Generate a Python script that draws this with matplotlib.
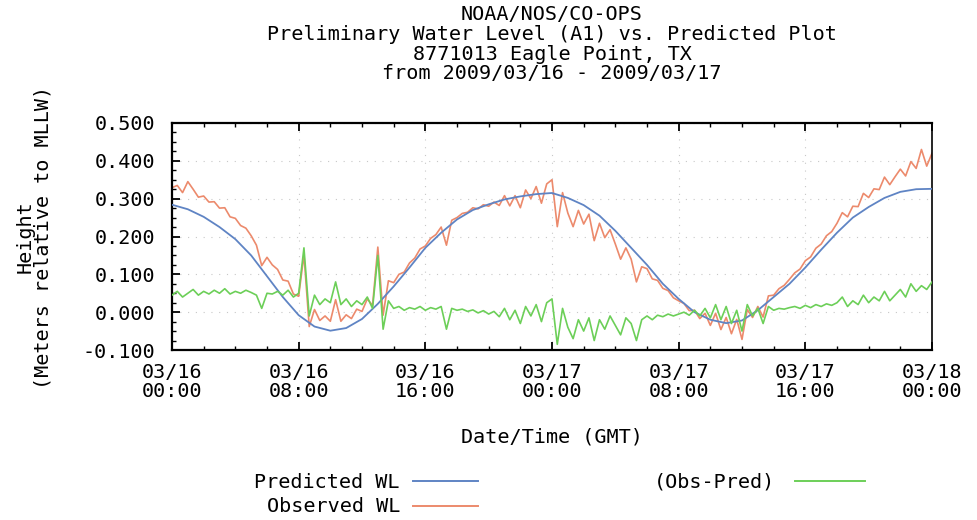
import matplotlib
matplotlib.use('Agg')
import matplotlib.pyplot as plt
from matplotlib.lines import Line2D
import numpy as np

# hours since 2009/03/16 00:00 GMT
pred_hours = np.arange(0, 49)
predicted = [0.284, 0.272, 0.252, 0.225, 0.193, 0.150, 0.095, 0.040, -0.008, -0.038,
             -0.049, -0.042, -0.018, 0.022, 0.068, 0.118, 0.170, 0.210, 0.245, 0.270,
             0.285, 0.298, 0.306, 0.312, 0.315, 0.302, 0.283, 0.255, 0.215, 0.170,
             0.125, 0.075, 0.035, 0.000, -0.020, -0.029, -0.022, 0.005, 0.040, 0.075,
             0.118, 0.165, 0.210, 0.250, 0.278, 0.302, 0.318, 0.325, 0.326]

# 20 minute samples
obs_hours = np.linspace(0, 48, 145)
observed = [0.329, 0.335, 0.316,
            0.345, 0.325, 0.304,
            0.307, 0.291, 0.292,
            0.275, 0.276, 0.252,
            0.248, 0.229, 0.222,
            0.202, 0.177, 0.123,
            0.145, 0.125, 0.113,
            0.085, 0.082, 0.048,
            0.042, 0.152, -0.038,
            0.007, -0.022, -0.010,
            -0.024, 0.033, -0.024,
            -0.007, -0.017, 0.008,
            0.002, 0.035, 0.018,
            0.172, -0.008, 0.083,
            0.078, 0.100, 0.106,
            0.130, 0.143, 0.167,
            0.175, 0.195, 0.205,
            0.225, 0.177, 0.243,
            0.250, 0.261, 0.264,
            0.276, 0.273, 0.284,
            0.280, 0.291, 0.282,
            0.308, 0.281, 0.308,
            0.276, 0.323, 0.300,
            0.332, 0.288, 0.339,
            0.350, 0.226, 0.316,
            0.262, 0.226, 0.269,
            0.233, 0.259, 0.189,
            0.235, 0.197, 0.218,
            0.180, 0.140, 0.170,
            0.140, 0.080, 0.120,
            0.115, 0.088, 0.084,
            0.063, 0.057, 0.038,
            0.030, 0.023, 0.004,
            0.005, -0.017, -0.003,
            -0.035, -0.003, -0.046,
            -0.014, -0.057, -0.019,
            -0.072, 0.007, -0.014,
            0.015, -0.013, 0.043,
            0.045, 0.062, 0.071,
            0.087, 0.104, 0.114,
            0.136, 0.146, 0.169,
            0.180, 0.202, 0.213,
            0.235, 0.263, 0.252,
            0.280, 0.279, 0.314,
            0.303, 0.326, 0.324,
            0.357, 0.337, 0.358,
            0.378, 0.360, 0.398,
            0.380, 0.430, 0.386,
            0.420]

residual = [0.045, 0.055, 0.040,
            0.050, 0.060, 0.045,
            0.055, 0.048, 0.058,
            0.050, 0.062, 0.048,
            0.055, 0.050, 0.058,
            0.052, 0.045, 0.010,
            0.050, 0.048, 0.055,
            0.045, 0.058, 0.040,
            0.050, 0.170, -0.010,
            0.045, 0.020, 0.035,
            0.025, 0.080, 0.020,
            0.035, 0.015, 0.030,
            0.020, 0.040, 0.010,
            0.150, -0.045, 0.030,
            0.010, 0.015, 0.005,
            0.012, 0.008, 0.015,
            0.005, 0.012, 0.008,
            0.015, -0.045, 0.010,
            0.005, 0.008, 0.002,
            0.006, -0.002, 0.004,
            -0.005, 0.002, -0.012,
            0.010, -0.020, 0.005,
            -0.030, 0.015, -0.010,
            0.020, -0.025, 0.025,
            0.035, -0.085, 0.010,
            -0.040, -0.070, -0.020,
            -0.050, -0.015, -0.075,
            -0.020, -0.045, -0.010,
            -0.035, -0.060, -0.015,
            -0.030, -0.075, -0.020,
            -0.010, -0.020, -0.008,
            -0.012, -0.005, -0.010,
            -0.005, 0.000, -0.008,
            0.005, -0.010, 0.010,
            -0.015, 0.020, -0.020,
            0.015, -0.030, 0.005,
            -0.050, 0.020, -0.010,
            0.010, -0.030, 0.015,
            0.005, 0.010, 0.008,
            0.012, 0.015, 0.010,
            0.018, 0.012, 0.020,
            0.015, 0.022, 0.018,
            0.025, 0.040, 0.015,
            0.030, 0.020, 0.045,
            0.025, 0.040, 0.030,
            0.055, 0.030, 0.045,
            0.060, 0.040, 0.075,
            0.055, 0.070, 0.060,
            0.080]

tick_hours = [0, 8, 16, 24, 32, 40, 48]
tick_labels = ['03/16\n00:00', '03/16\n08:00', '03/16\n16:00', '03/17\n00:00',
               '03/17\n08:00', '03/17\n16:00', '03/18\n00:00']
y_ticks = [-0.1, 0.0, 0.1, 0.2, 0.3, 0.4, 0.5]
y_labels = ['-0.100', '0.000', '0.100', '0.200', '0.300', '0.400', '0.500']

blue = '#5f84c4'
red = '#ec8a6c'
green = '#6ccf58'

plt.rcParams['font.family'] = ['DejaVu Sans Mono']
fs = 14.5

W, H = 977, 520
fig = plt.figure(figsize=(W / 100, H / 100), dpi=100)

def fx(x):
    return x / W

def fy(y):
    return 1 - y / H

ax = fig.add_axes([fx(172), fy(350), fx(932) - fx(172), fy(123) - fy(350)])

ax.plot(obs_hours, observed, color=red, lw=1.2, zorder=2)
ax.plot(pred_hours, predicted, color=blue, lw=1.3, zorder=3)
ax.plot(obs_hours, residual, color=green, lw=1.2, zorder=4)

ax.set_xlim(0, 48)
ax.set_ylim(-0.1, 0.5)
ax.set_xticks(tick_hours)
ax.set_xticklabels(tick_labels, fontsize=fs, linespacing=1.05)
ax.set_xticks(np.arange(0, 49, 2), minor=True)
ax.set_yticks(y_ticks)
ax.set_yticklabels(y_labels, fontsize=fs)
ax.set_yticks(np.arange(-0.1, 0.5, 0.025), minor=True)
ax.tick_params(which='major', direction='in', length=6, width=1.3, top=True, right=False, pad=9)
ax.tick_params(which='minor', direction='in', length=3, width=1, top=True, right=False)
ax.tick_params(axis='y', pad=12)
ax.grid(True, which='major', color='#c8c8c8', ls=(0, (1, 6)), lw=0.8)

for side in ['left', 'bottom', 'top']:
    ax.spines[side].set_linewidth(1.6)
ax.spines['right'].set_linewidth(1.2)

# title block
fig.text(fx(552), fy(14), 'NOAA/NOS/CO-OPS', ha='center', va='center', fontsize=fs)
fig.text(fx(552), fy(34), 'Preliminary Water Level (A1) vs. Predicted Plot',
         ha='center', va='center', fontsize=fs)
fig.text(fx(552), fy(54), '8771013 Eagle Point, TX', ha='center', va='center', fontsize=fs)
fig.text(fx(552), fy(74), 'from 2009/03/16 - 2009/03/17', ha='center', va='center', fontsize=fs)

# axis labels
fig.text(fx(552), fy(437), 'Date/Time (GMT)', ha='center', va='center', fontsize=fs)
fig.text(fx(25), fy(237), 'Height', ha='center', va='center', rotation=90, fontsize=fs)
fig.text(fx(43), fy(237), '(Meters relative to MLLW)', ha='center', va='center',
         rotation=90, fontsize=fs)

# legend
fig.text(fx(400), fy(482), 'Predicted WL', ha='right', va='center', fontsize=fs)
fig.add_artist(Line2D([fx(413), fx(478)], [fy(481), fy(481)], color=blue, lw=1.4,
                      transform=fig.transFigure))
fig.text(fx(400), fy(507), 'Observed WL', ha='right', va='center', fontsize=fs)
fig.add_artist(Line2D([fx(413), fx(478)], [fy(506), fy(506)], color=red, lw=1.4,
                      transform=fig.transFigure))
fig.text(fx(775), fy(482), '(Obs-Pred)', ha='right', va='center', fontsize=fs)
fig.add_artist(Line2D([fx(795), fx(865)], [fy(481), fy(481)], color=green, lw=1.4,
                      transform=fig.transFigure))

fig.savefig('out.png', dpi=100)
